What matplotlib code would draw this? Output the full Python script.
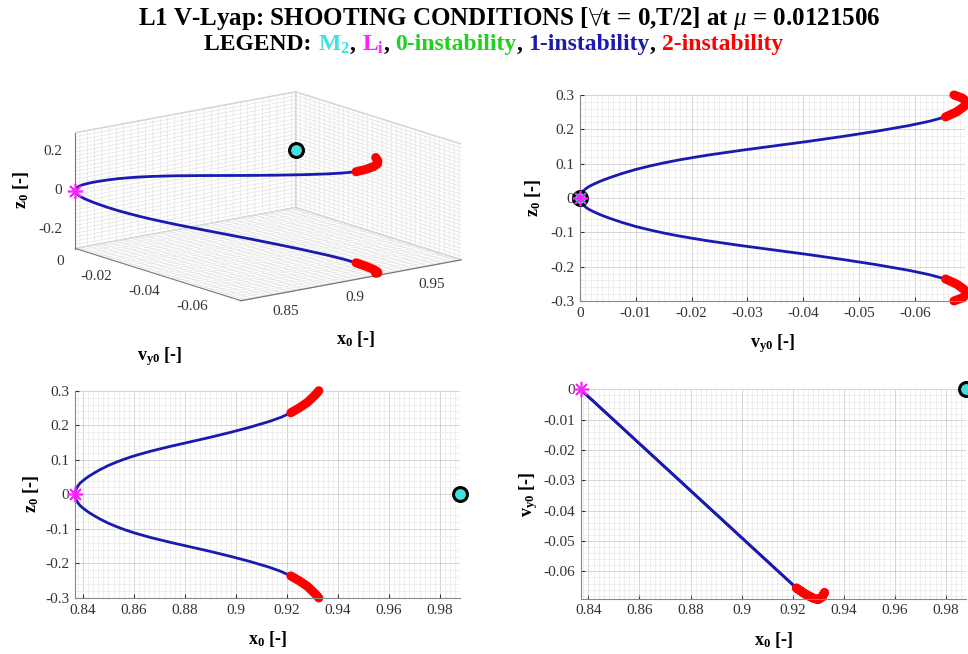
import numpy as np
import matplotlib
matplotlib.use("Agg")
import matplotlib.pyplot as plt
from matplotlib.ticker import MultipleLocator, FixedLocator, FuncFormatter, NullFormatter
from matplotlib.offsetbox import TextArea, HPacker, AnchoredOffsetbox
from mpl_toolkits.mplot3d import proj3d

plt.rcParams['font.family'] = ['Liberation Serif', 'DejaVu Serif']
plt.rcParams['mathtext.fontset'] = 'custom'
plt.rcParams['mathtext.rm'] = 'Liberation Serif'
plt.rcParams['mathtext.it'] = 'Liberation Serif:italic'
plt.rcParams['mathtext.bf'] = 'Liberation Serif:bold'
plt.rcParams['axes.unicode_minus'] = False

mu = 0.0121506
x_L1 = 0.8369
x_M2 = 1 - mu

# upper half of the family (z0 > 0); lower half is its mirror in z0
# 1-instability part
x0_one = [0.83690, 0.83703, 0.83729, 0.83767, 0.83819, 0.83884, 0.83974, 0.84077,
          0.84207, 0.84400, 0.84659, 0.84982, 0.85304, 0.85627, 0.85950, 0.86273,
          0.86661, 0.87436, 0.88211, 0.88986, 0.89761, 0.90535, 0.91310, 0.91763,
          0.92150]
vy0_one = [0.0, -0.0001, -0.0003, -0.0006, -0.001, -0.0015, -0.0022, -0.003,
           -0.004, -0.0055, -0.0075, -0.01, -0.0125, -0.015, -0.0175, -0.02,
           -0.023, -0.029, -0.035, -0.041, -0.047, -0.053, -0.059, -0.0625,
           -0.0655]
z0_one = [0.0, 0.008, 0.014, 0.020, 0.026, 0.032, 0.038, 0.044,
          0.051, 0.060, 0.071, 0.083, 0.093, 0.102, 0.110, 0.117,
          0.125, 0.139, 0.152, 0.165, 0.179, 0.194, 0.211, 0.223,
          0.236]
# 2-instability part
x0_two = [0.9215, 0.9250, 0.9280, 0.9300, 0.9315, 0.9325]
vy0_two = [-0.0655, -0.0675, -0.0688, -0.0693, -0.0685, -0.0670]
z0_two = [0.236, 0.251, 0.266, 0.280, 0.291, 0.300]

# labelled ticks of the 3D view
x_lab3 = [0.85, 0.9, 0.95]
vy_lab3 = [0.0, -0.02, -0.04, -0.06]
z_lab3 = [-0.2, 0.0, 0.2]

vy_min = -0.069
c_m2 = '#3fe0e0'
c_li = '#ff22ff'
c_one = '#1a1ab0'
c_two = '#ff0000'
c_zero = '#1ed21e'


def fmt(v, pos=None):
    if abs(v) < 1e-12:
        return '0'
    return '%g' % round(v, 6)


def branches():
    # (x0, vy0, z0) arrays for each colored piece, both halves
    out = []
    for sgn in (1, -1):
        out.append((np.array(x0_one), np.array(vy0_one), sgn * np.array(z0_one), c_one, 2.0))
        out.append((np.array(x0_two), np.array(vy0_two), sgn * np.array(z0_two), c_two, 6.5))
    return out


def style2d(ax, xmaj, xmin, ymaj, ymin):
    ax.xaxis.set_major_locator(MultipleLocator(xmaj))
    ax.xaxis.set_minor_locator(MultipleLocator(xmin))
    ax.yaxis.set_major_locator(MultipleLocator(ymaj))
    ax.yaxis.set_minor_locator(MultipleLocator(ymin))
    ax.xaxis.set_major_formatter(FuncFormatter(fmt))
    ax.yaxis.set_major_formatter(FuncFormatter(fmt))
    ax.grid(which='major', color='#d0d0d0', lw=0.6)
    ax.grid(which='minor', color='#e4e4e4', lw=0.4)
    ax.set_axisbelow(True)
    ax.tick_params(which='major', direction='in', length=3, labelsize=11,
                   colors='#333333', pad=4)
    ax.tick_params(which='minor', length=0)
    for s in ('top', 'right'):
        ax.spines[s].set_visible(False)
    for s in ('left', 'bottom'):
        ax.spines[s].set_color('#888888')


def markers2d(ax, m2, li):
    ax.plot(*m2, 'o', ms=10, mfc=c_m2, mec='black', mew=2.2, clip_on=False, zorder=6)
    ax.plot(*li, marker=(8, 2, 0), ms=11, color=c_li, mew=1.2, clip_on=False, zorder=7)


fig = plt.figure(figsize=(9.68, 6.54), dpi=100)

fig.text(0.526, 0.971,
         r"L1 V-Lyap: SHOOTING CONDITIONS [$\forall$t = 0,T/2] at $\mu$ = 0.0121506",
         ha='center', va='center', fontsize=18, fontweight='bold')

parts = [("LEGEND: ", 'black'), (r"M$_{\mathbf{2}}$", c_m2), (", ", 'black'),
         (r"L$_{\mathbf{i}}$", c_li), (", ", 'black'), ("0-instability", c_zero),
         (", ", 'black'), ("1-instability", c_one), (", ", 'black'),
         ("2-instability", c_two)]
boxes = [TextArea(t, textprops=dict(color=c, fontsize=17, fontweight='bold')) for t, c in parts]
pack = HPacker(children=boxes, align='baseline', pad=0, sep=0)
fig.add_artist(AnchoredOffsetbox(loc='center', child=pack, frameon=False, pad=0, borderpad=0,
                                 bbox_to_anchor=(0.51, 0.932),
                                 bbox_transform=fig.transFigure))

# ---- 3D view ----
ax3 = fig.add_axes([-0.0599, 0.390, 0.6632, 0.6035], projection='3d')
ax3.set_proj_type('ortho')
ax3.view_init(elev=14, azim=-127.5)
ax3.set_box_aspect((1, 0.98, 0.43))
for x, vy, z, c, lw in branches():
    ax3.plot(x, vy, z, color=c, lw=lw, solid_capstyle='round')
ax3.plot([x_M2], [0], [0], 'o', ms=10, mfc=c_m2, mec='black', mew=2.2)
ax3.plot([x_L1], [0], [0], marker=(8, 2, 0), ms=11, color=c_li, mew=1.2)
ax3.set_xlim(x_L1, x_M2)
ax3.set_ylim(vy_min, 0)
ax3.set_zlim(-0.3, 0.3)

# dense ticks only to get the fine 3D grid; labels are drawn separately
ax3.xaxis.set_major_locator(FixedLocator(np.round(np.arange(0.84, x_M2, 0.005), 4)))
ax3.yaxis.set_major_locator(FixedLocator(np.round(np.arange(-0.068, 0.0001, 0.002), 4)))
ax3.zaxis.set_major_locator(FixedLocator(np.round(np.arange(-0.3, 0.3001, 0.02), 4)))
for a in (ax3.xaxis, ax3.yaxis, ax3.zaxis):
    a.set_major_formatter(NullFormatter())
    a.set_pane_color((1, 1, 1, 1))
    a.pane.set_edgecolor('#cccccc')
    a._axinfo['grid']['color'] = '#dedede'
    a._axinfo['grid']['linewidth'] = 0.4
    a._axinfo['tick']['inward_factor'] = 0
    a._axinfo['tick']['outward_factor'] = 0
    a.line.set_color('#777777')

fig.text(0.165, 0.455, r'$\mathbf{v_{y0}}$ [-]', fontsize=13, fontweight='bold', ha='center', va='center')
fig.text(0.367, 0.482, r'$\mathbf{x_0}$ [-]', fontsize=13, fontweight='bold', ha='center', va='center')
fig.text(0.022, 0.71, r'$\mathbf{z_0}$ [-]', fontsize=13, fontweight='bold', ha='center', va='center', rotation=90)

# ---- vy0 - z0 ----
ax_tr = fig.add_axes([0.599, 0.5398, 0.398, 0.315])
for x, vy, z, c, lw in branches():
    ax_tr.plot(vy, z, color=c, lw=lw, solid_capstyle='round', clip_on=False)
markers2d(ax_tr, ([0], [0]), ([0], [0]))
ax_tr.set_xlim(0, vy_min)
ax_tr.set_ylim(-0.3, 0.3)
style2d(ax_tr, 0.01, 0.001, 0.1, 0.02)
ax_tr.set_xlabel(r'$\mathbf{v_{y0}}$ [-]', fontsize=13, fontweight='bold', labelpad=9)
ax_tr.set_ylabel(r'$\mathbf{z_0}$ [-]', fontsize=13, fontweight='bold', labelpad=5)

# ---- x0 - z0 ----
ax_bl = fig.add_axes([0.0775, 0.0856, 0.3977, 0.317])
for x, vy, z, c, lw in branches():
    ax_bl.plot(x, z, color=c, lw=lw, solid_capstyle='round', clip_on=False)
markers2d(ax_bl, ([x_M2], [0]), ([x_L1], [0]))
ax_bl.set_xlim(x_L1, x_M2)
ax_bl.set_ylim(-0.3, 0.3)
style2d(ax_bl, 0.02, 0.002, 0.1, 0.02)
ax_bl.set_xlabel(r'$\mathbf{x_0}$ [-]', fontsize=13, fontweight='bold', labelpad=9)
ax_bl.set_ylabel(r'$\mathbf{z_0}$ [-]', fontsize=13, fontweight='bold', labelpad=3)

# ---- x0 - vy0 ----
ax_br = fig.add_axes([0.5997, 0.0846, 0.398, 0.320])
for x, vy, z, c, lw in branches():
    ax_br.plot(x, vy, color=c, lw=lw, solid_capstyle='round', clip_on=False)
markers2d(ax_br, ([x_M2], [0]), ([x_L1], [0]))
ax_br.set_xlim(x_L1, x_M2)
ax_br.set_ylim(vy_min, 0)
style2d(ax_br, 0.02, 0.002, 0.01, 0.002)
ax_br.set_xlabel(r'$\mathbf{x_0}$ [-]', fontsize=13, fontweight='bold', labelpad=9)
ax_br.set_ylabel(r'$\mathbf{v_{y0}}$ [-]', fontsize=13, fontweight='bold', labelpad=2)

# 3D tick labels as plain figure texts, placed from the 3D projection
fig.canvas.draw()
W, H = fig.bbox.width, fig.bbox.height


def label3d(x, y, z, s, dx, dy, ha):
    px, py, _ = proj3d.proj_transform(x, y, z, ax3.M)
    X, Y = ax3.transData.transform((px, py))
    fig.text((X + dx) / W, (Y + dy) / H, s, ha=ha, va='center', fontsize=11, color='#333333')


for v in x_lab3:
    label3d(v, vy_min, -0.3, fmt(v), 12, -14, 'left')
for v in vy_lab3:
    label3d(x_L1, v, -0.3, fmt(v), -11, -13, 'right')
for v in z_lab3:
    label3d(x_L1, 0, v, fmt(v), -13, 0, 'right')

fig.savefig('out.png', dpi=100, facecolor='white')
